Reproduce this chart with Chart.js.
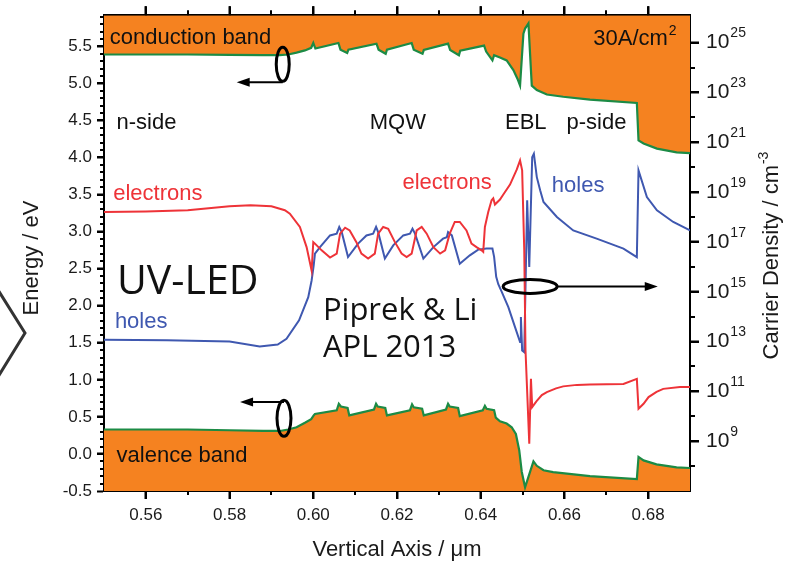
<!DOCTYPE html>
<html>
<head>
<meta charset="utf-8">
<script src="https://cdn.jsdelivr.net/npm/chart.js@4.4.1/dist/chart.umd.min.js"></script>
<style>
  html, body { margin: 0; padding: 0; background: #fff; }
  canvas { display: block; }
</style>
</head>
<body>
<canvas id="bands" width="786" height="562"></canvas>
<script>
// ---- band edges, eV  [position um, energy] ----
const conductionBand = [
  [0.550, 5.39], [0.560, 5.39], [0.570, 5.39], [0.580, 5.385], [0.588, 5.38], [0.592, 5.38],
  [0.594, 5.39], [0.596, 5.415], [0.598, 5.445], [0.5995, 5.48], [0.6000, 5.545], [0.6005, 5.47],
  [0.6060, 5.545], [0.6065, 5.455], [0.6081, 5.41], [0.6084, 5.455],
  [0.6151, 5.536], [0.6156, 5.455], [0.6173, 5.40], [0.6176, 5.455],
  [0.6235, 5.545], [0.6240, 5.455], [0.6261, 5.40], [0.6264, 5.45],
  [0.6322, 5.536], [0.6327, 5.45], [0.6348, 5.38], [0.6351, 5.44],
  [0.6408, 5.51], [0.6413, 5.43], [0.6428, 5.31], [0.6432, 5.38], [0.6446, 5.35], [0.6462, 5.31],
  [0.6478, 5.18], [0.6488, 5.06], [0.6494, 4.97], [0.6502, 5.67], [0.6506, 5.74], [0.6514, 5.81],
  [0.6522, 4.97], [0.6534, 4.91], [0.6558, 4.85], [0.6597, 4.82], [0.6661, 4.78], [0.6773, 4.735],
  [0.6777, 4.23], [0.6789, 4.19], [0.6821, 4.12], [0.6868, 4.07], [0.6900, 4.06],
];
const valenceBand = [
  [0.550, 0.33], [0.570, 0.33], [0.580, 0.32], [0.588, 0.31], [0.592, 0.31], [0.594, 0.33],
  [0.596, 0.36], [0.598, 0.42], [0.5995, 0.47], [0.6001, 0.52], [0.6004, 0.54],
  [0.6056, 0.59], [0.6061, 0.677], [0.6066, 0.64], [0.6082, 0.62], [0.6086, 0.52],
  [0.6145, 0.60], [0.6150, 0.677], [0.6154, 0.64], [0.6172, 0.62], [0.6176, 0.52],
  [0.6231, 0.59], [0.6236, 0.67], [0.6240, 0.63], [0.6260, 0.61], [0.6264, 0.52],
  [0.6317, 0.60], [0.6322, 0.677], [0.6326, 0.64], [0.6346, 0.62], [0.6350, 0.51],
  [0.6405, 0.59], [0.6410, 0.65], [0.6414, 0.61], [0.6432, 0.59], [0.6436, 0.49],
  [0.6446, 0.44], [0.6462, 0.41], [0.6474, 0.36], [0.6484, 0.27], [0.6492, 0.05], [0.6498, -0.24],
  [0.6506, -0.45], [0.6514, -0.31], [0.6526, -0.10], [0.6534, -0.16], [0.6550, -0.22],
  [0.6573, -0.245], [0.6661, -0.30], [0.6773, -0.34], [0.6777, -0.04], [0.6789, -0.087],
  [0.6820, -0.14], [0.6868, -0.18], [0.6900, -0.19],
];

// ---- carrier densities, log10(cm^-3)  [position um, exponent] ----
const electronLog = [
  [0.550, 18.20], [0.560, 18.22], [0.570, 18.27], [0.580, 18.43], [0.585, 18.47], [0.590, 18.43],
  [0.5932, 18.27], [0.5944, 18.13], [0.5968, 17.6], [0.5984, 16.79], [0.5996, 15.85],
  [0.6000, 16.99], [0.6004, 16.93], [0.6020, 16.66], [0.6040, 16.37], [0.6056, 16.53],
  [0.6064, 17.33], [0.6076, 17.57], [0.6087, 17.46], [0.6103, 16.99], [0.6115, 16.53],
  [0.6131, 16.33], [0.6147, 16.53], [0.6155, 17.33], [0.6167, 17.6], [0.6179, 17.53],
  [0.6195, 16.99], [0.6211, 16.53], [0.6223, 16.39], [0.6235, 16.53], [0.6247, 17.46],
  [0.6259, 17.6], [0.6271, 17.33], [0.6287, 16.79], [0.6303, 16.53], [0.6315, 16.66],
  [0.6326, 17.33], [0.6338, 17.8], [0.6350, 17.8], [0.6366, 17.46], [0.6378, 16.93],
  [0.6390, 16.79], [0.6402, 16.66], [0.6406, 16.6], [0.6410, 17.6], [0.6418, 18.2],
  [0.6426, 18.67], [0.6430, 18.75], [0.6434, 18.5], [0.6446, 18.7], [0.6454, 18.9],
  [0.6470, 19.3], [0.6486, 19.9], [0.6494, 20.27], [0.6499, 19.87], [0.6504, 16.66],
  [0.6507, 12.65], [0.6516, 8.9], [0.6520, 11.5], [0.6523, 10.37], [0.6533, 10.6],
  [0.6546, 10.85], [0.6558, 10.97], [0.6580, 11.12], [0.6597, 11.2], [0.6630, 11.26],
  [0.6661, 11.28], [0.6741, 11.3], [0.6773, 11.5], [0.6777, 10.3], [0.6789, 10.5],
  [0.6801, 10.77], [0.6820, 10.98], [0.6836, 11.1], [0.6876, 11.17], [0.6900, 11.17],
];
const holeLog = [
  [0.550, 13.07], [0.565, 13.05], [0.580, 13.0], [0.5872, 12.8], [0.5915, 12.88], [0.5936, 13.11],
  [0.5966, 13.85], [0.5988, 14.78], [0.5996, 15.45], [0.6001, 16.06], [0.6004, 16.53],
  [0.6016, 16.79], [0.6040, 17.26], [0.6056, 17.33], [0.6062, 17.6], [0.6068, 17.39],
  [0.6083, 16.39], [0.6107, 16.93], [0.6127, 17.26], [0.6143, 17.33], [0.6150, 17.6],
  [0.6155, 17.39], [0.6171, 16.33], [0.6191, 16.86], [0.6215, 17.26], [0.6231, 17.33],
  [0.6237, 17.53], [0.6243, 17.33], [0.6263, 16.33], [0.6287, 16.79], [0.6310, 17.13],
  [0.6319, 17.19], [0.6322, 17.39], [0.6331, 17.26], [0.6350, 16.12], [0.6374, 16.46],
  [0.6394, 16.69], [0.6414, 16.73], [0.6428, 16.73], [0.6432, 16.4], [0.6437, 15.6],
  [0.6442, 15.3], [0.6450, 15.0], [0.6466, 14.38], [0.6482, 13.58], [0.6494, 12.98],
  [0.6496, 13.98], [0.6499, 12.64], [0.6504, 12.57], [0.6511, 18.67], [0.6516, 15.99],
  [0.6523, 20.4], [0.6527, 20.54], [0.6534, 19.6], [0.6542, 19.07], [0.6550, 18.6],
  [0.6582, 18.0], [0.6621, 17.46], [0.6677, 17.13], [0.6741, 16.73], [0.6773, 16.39],
  [0.6777, 19.87], [0.6797, 18.8], [0.6821, 18.27], [0.6860, 17.8], [0.6900, 17.46],
];

// ---- axes ----
const X_MIN = 0.55, X_MAX = 0.69;
const E_MIN = -0.5, E_MAX = 5.92;
const LOG_MIN = 7, LOG_MAX = 26.1;
const xTicks = [0.56, 0.58, 0.60, 0.62, 0.64, 0.66, 0.68];
const xMinorTicks = [0.57, 0.59, 0.61, 0.63, 0.65, 0.67];
const energyTicks = [-0.5, 0, 0.5, 1, 1.5, 2, 2.5, 3, 3.5, 4, 4.5, 5, 5.5];
const densityExps = [9, 11, 13, 15, 17, 19, 21, 23, 25];
const densityMinorExps = [8, 10, 12, 14, 16, 18, 20, 22, 24];

const ORANGE = '#F58220';
const GREEN = '#1C8B45';
const RED = '#EE3338';
const BLUE = '#3F58B0';
const SANS = '"Liberation Sans", Arial, sans-serif';
const HUMAN = '"Open Sans", "DejaVu Sans", sans-serif';

const textLabels = [
  { text: 'conduction band', x: 0.5514, e: 5.534, color: '#111' },
  { text: 'n-side', x: 0.5530, e: 4.389, color: '#111' },
  { text: 'MQW', x: 0.6135, e: 4.389, color: '#111' },
  { text: 'EBL', x: 0.6458, e: 4.389, color: '#111' },
  { text: 'p-side', x: 0.6605, e: 4.389, color: '#111' },
  { text: 'valence band', x: 0.5530, e: -0.110, color: '#111' },
  { text: 'electrons', x: 0.5522, e: 3.431, color: RED },
  { text: 'electrons', x: 0.6213, e: 3.580, color: RED },
  { text: 'holes', x: 0.6570, e: 3.534, color: BLUE },
  { text: 'holes', x: 0.5526, e: 1.698, color: BLUE },
];
const bigLabels = [
  { text: 'UV-LED', x: 0.5531, e: 2.160, size: 41 },
  { text: 'Piprek & Li', x: 0.6023, e: 1.812, size: 31 },
  { text: 'APL 2013', x: 0.6023, e: 1.307, size: 31 },
];

const toPoints = (pairs) => pairs.map(([x, y]) => ({ x, y }));
const toDensity = (pairs) => pairs.map(([x, p]) => ({ x, y: Math.pow(10, p) }));

Chart.defaults.font.family = SANS;

function arrow(ctx, x1, y1, x2, y2) {
  const ang = Math.atan2(y2 - y1, x2 - x1);
  ctx.beginPath();
  ctx.moveTo(x1, y1);
  ctx.lineTo(x2 - 10 * Math.cos(ang), y2 - 10 * Math.sin(ang));
  ctx.stroke();
  ctx.beginPath();
  ctx.moveTo(x2, y2);
  ctx.lineTo(x2 - 13 * Math.cos(ang) + 4.5 * Math.sin(ang), y2 - 13 * Math.sin(ang) - 4.5 * Math.cos(ang));
  ctx.lineTo(x2 - 13 * Math.cos(ang) - 4.5 * Math.sin(ang), y2 - 13 * Math.sin(ang) + 4.5 * Math.cos(ang));
  ctx.closePath();
  ctx.fill();
}

// tick marks, annotations, ellipses, axis titles
const decor = {
  id: 'decor',
  afterDraw(chart) {
    const { ctx, chartArea: a, scales } = chart;
    const xs = scales.x, ye = scales.yE, yn = scales.yN;
    ctx.save();

    // tick marks (major + minor) on all four sides
    ctx.strokeStyle = '#000';
    ctx.lineWidth = 2;
    ctx.beginPath();
    for (let i = -4; i <= 59; i++) {
      const y = Math.round(ye.getPixelForValue(i / 10));
      const len = i % 5 === 0 ? 7 : 4;
      ctx.moveTo(a.left, y); ctx.lineTo(a.left - len, y);
    }
    xTicks.forEach((v) => {
      const x = Math.round(xs.getPixelForValue(v));
      ctx.moveTo(x, a.bottom); ctx.lineTo(x, a.bottom + 8);
      ctx.moveTo(x, a.top); ctx.lineTo(x, a.top - 9);
    });
    xMinorTicks.forEach((v) => {
      const x = Math.round(xs.getPixelForValue(v));
      ctx.moveTo(x, a.bottom); ctx.lineTo(x, a.bottom + 4);
      ctx.moveTo(x, a.top); ctx.lineTo(x, a.top - 5);
    });
    densityExps.forEach((p) => {
      const y = Math.round(yn.getPixelForValue(Math.pow(10, p)));
      ctx.moveTo(a.right, y); ctx.lineTo(a.right + 9, y);
    });
    densityMinorExps.forEach((p) => {
      const y = Math.round(yn.getPixelForValue(Math.pow(10, p)));
      ctx.moveTo(a.right, y); ctx.lineTo(a.right + 5, y);
    });
    ctx.stroke();

    // right axis labels 10^n
    ctx.fillStyle = '#1a1a1a';
    densityExps.forEach((p) => {
      const y = yn.getPixelForValue(Math.pow(10, p));
      ctx.textBaseline = 'middle';
      ctx.textAlign = 'left';
      ctx.font = `21px ${SANS}`;
      ctx.fillText('10', a.right + 16, y);
      const w = ctx.measureText('10').width;
      ctx.font = `14px ${SANS}`;
      ctx.fillText(String(p), a.right + 17 + w, y - 9);
    });

    // text annotations
    ctx.textBaseline = 'alphabetic';
    ctx.textAlign = 'left';
    ctx.font = `22px ${SANS}`;
    textLabels.forEach((l) => {
      ctx.fillStyle = l.color;
      ctx.fillText(l.text, xs.getPixelForValue(l.x), ye.getPixelForValue(l.e));
    });
    ctx.fillStyle = '#111';
    bigLabels.forEach((l) => {
      ctx.font = `${l.size}px ${HUMAN}`;
      ctx.fillText(l.text, xs.getPixelForValue(l.x), ye.getPixelForValue(l.e));
    });

    // current density
    ctx.font = `22px ${SANS}`;
    ctx.textAlign = 'right';
    const cx = xs.getPixelForValue(0.6847), cy = ye.getPixelForValue(5.513);
    ctx.fillText('30A/cm', cx, cy);
    ctx.textAlign = 'left';
    ctx.font = `14px ${SANS}`;
    ctx.fillText('2', cx + 1, cy - 10);

    // ellipses with arrows
    ctx.strokeStyle = '#000';
    ctx.fillStyle = '#000';
    ctx.lineWidth = 3;
    const e1 = [xs.getPixelForValue(0.5927), ye.getPixelForValue(5.257)];
    ctx.beginPath(); ctx.ellipse(e1[0], e1[1], 6.5, 17, 0, 0, Math.PI * 2); ctx.stroke();
    const e2 = [xs.getPixelForValue(0.5930), ye.getPixelForValue(0.480)];
    ctx.beginPath(); ctx.ellipse(e2[0], e2[1], 7, 18, 0, 0, Math.PI * 2); ctx.stroke();
    const e3 = [xs.getPixelForValue(0.6518), ye.getPixelForValue(2.261)];
    ctx.beginPath(); ctx.ellipse(e3[0], e3[1], 27, 7, 0, 0, Math.PI * 2); ctx.stroke();
    ctx.lineWidth = 2;
    arrow(ctx, e1[0], ye.getPixelForValue(5.014), xs.getPixelForValue(0.5817), ye.getPixelForValue(5.014));
    arrow(ctx, e2[0], ye.getPixelForValue(0.700), xs.getPixelForValue(0.5825), ye.getPixelForValue(0.700));
    arrow(ctx, e3[0] + 27, e3[1], xs.getPixelForValue(0.6823), e3[1]);

    // chevron at the left edge
    ctx.strokeStyle = '#333';
    ctx.lineWidth = 3;
    ctx.beginPath();
    ctx.moveTo(-2, 290); ctx.lineTo(25, 333); ctx.lineTo(-2, 377);
    ctx.stroke();

    // axis titles
    ctx.fillStyle = '#1a1a1a';
    ctx.font = `22px ${SANS}`;
    ctx.textAlign = 'center';
    ctx.fillText('Vertical Axis / \u03bcm', (a.left + a.right) / 2, 556);

    ctx.save();
    ctx.translate(38, 258);
    ctx.rotate(-Math.PI / 2);
    ctx.fillText('Energy / eV', 0, 0);
    ctx.restore();

    ctx.save();
    ctx.translate(778, 256);
    ctx.rotate(-Math.PI / 2);
    ctx.font = `22px ${SANS}`;
    const main = 'Carrier Density / cm';
    const mw = ctx.measureText(main).width;
    ctx.font = `14px ${SANS}`;
    const sw = ctx.measureText('-3').width;
    ctx.textAlign = 'left';
    ctx.font = `22px ${SANS}`;
    ctx.fillText(main, -(mw + sw) / 2, 0);
    ctx.font = `14px ${SANS}`;
    ctx.fillText('-3', -(mw + sw) / 2 + mw + 1, -10);
    ctx.restore();

    ctx.restore();
  },
};

const tickGrid = (len) => ({
  drawOnChartArea: false,
  drawTicks: true,
  tickLength: len,
  tickWidth: 2,
  tickColor: '#000',
});
const frame = { display: true, color: '#000', width: 2 };

new Chart(document.getElementById('bands').getContext('2d'), {
  type: 'line',
  data: {
    datasets: [
      {
        label: 'conduction band',
        data: toPoints(conductionBand),
        yAxisID: 'yE',
        borderColor: GREEN,
        borderWidth: 2.2,
        backgroundColor: ORANGE,
        fill: 'end',
      },
      {
        label: 'valence band',
        data: toPoints(valenceBand),
        yAxisID: 'yE',
        borderColor: GREEN,
        borderWidth: 2.2,
        backgroundColor: ORANGE,
        fill: 'start',
      },
      {
        label: 'electrons',
        data: toDensity(electronLog),
        yAxisID: 'yN',
        borderColor: RED,
        borderWidth: 2,
        fill: false,
      },
      {
        label: 'holes',
        data: toDensity(holeLog),
        yAxisID: 'yN',
        borderColor: BLUE,
        borderWidth: 2,
        fill: false,
      },
    ],
  },
  options: {
    responsive: false,
    animation: false,
    events: [],
    layout: { padding: 0 },
    elements: { point: { radius: 0 }, line: { tension: 0 } },
    plugins: { legend: { display: false }, tooltip: { enabled: false } },
    scales: {
      x: {
        type: 'linear',
        position: 'bottom',
        min: X_MIN,
        max: X_MAX,
        afterBuildTicks(scale) { scale.ticks = xTicks.map((v) => ({ value: v })); },
        afterFit(scale) { scale.height = 71; },
        ticks: {
          callback: (v) => v.toFixed(2),
          font: { size: 17 },
          color: '#1a1a1a',
          padding: 6,
          maxRotation: 0,
          autoSkip: false,
        },
        grid: tickGrid(8),
        border: frame,
        z: 1,
      },
      xTop: {
        type: 'linear',
        position: 'top',
        min: X_MIN,
        max: X_MAX,
        afterBuildTicks(scale) { scale.ticks = xTicks.map((v) => ({ value: v })); },
        afterFit(scale) { scale.height = 15; },
        ticks: { display: false },
        grid: tickGrid(9),
        border: frame,
        z: 1,
      },
      yE: {
        type: 'linear',
        position: 'left',
        min: E_MIN,
        max: E_MAX,
        afterBuildTicks(scale) { scale.ticks = energyTicks.map((v) => ({ value: v })); },
        afterFit(scale) { scale.width = 104; },
        ticks: {
          callback: (v) => v.toFixed(1),
          font: { size: 17 },
          color: '#1a1a1a',
          padding: 5,
          autoSkip: false,
        },
        grid: tickGrid(7),
        border: frame,
        z: 1,
      },
      yN: {
        type: 'logarithmic',
        position: 'right',
        min: Math.pow(10, LOG_MIN),
        max: Math.pow(10, LOG_MAX),
        afterBuildTicks(scale) { scale.ticks = densityExps.map((p) => ({ value: Math.pow(10, p) })); },
        afterFit(scale) { scale.width = 96; },
        ticks: { display: false },
        grid: tickGrid(9),
        border: frame,
        z: 1,
      },
    },
  },
  plugins: [decor],
});
</script>
</body>
</html>
